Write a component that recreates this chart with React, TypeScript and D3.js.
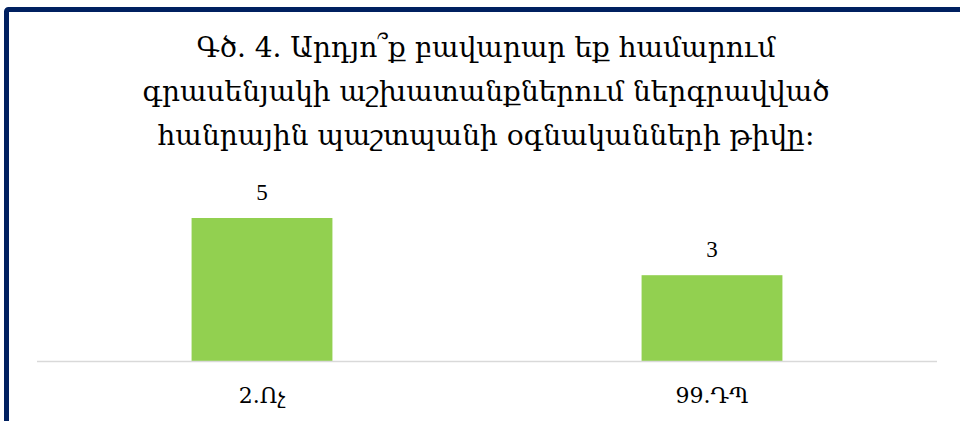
import React from "react";
import * as d3 from "d3";

const categories = ["2.Ոչ", "99.ԴՊ"];
const values = [5, 3];
const titleLines = [
  "Գծ. 4. Արդյո՞ք բավարար եք համարում",
  "գրասենյակի աշխատանքներում ներգրավված",
  "հանրային պաշտպանի օգնականների թիվը։",
];

export default function App() {
  const W = 960, H = 421;
  const left = 37, right = 937, baseY = 361;
  const x = d3.scaleBand<string>().domain(categories).range([left, right]).paddingInner(0.687).paddingOuter(0.3435);
  const y = d3.scaleLinear().domain([0, 5]).range([baseY, baseY - 143]);
  const font = "'DejaVu Serif', 'Liberation Serif', serif";
  return (
    <svg width={W} height={H} style={{ position: "absolute", left: 0, top: 0, background: "#fff" }}>
      <rect x={6.5} y={9.5} width={1000} height={500} rx={2} fill="#fff" stroke="#002060" strokeWidth={5} />
      {titleLines.map((t, i) => (
        <text key={i} x={486} y={57 + i * 44} textAnchor="middle" fontFamily={font} fontSize={28} fill="#000">
          {t}
        </text>
      ))}
      {categories.map((c, i) => (
        <g key={c}>
          <rect x={x(c)} y={y(values[i])} width={x.bandwidth()} height={baseY - y(values[i])} fill="#92d050" />
          <text x={x(c)! + x.bandwidth() / 2} y={y(values[i]) - 18} textAnchor="middle" fontFamily="'Liberation Serif', serif" fontSize={23} fill="#000">
            {values[i]}
          </text>
          <text x={x(c)! + x.bandwidth() / 2} y={403} textAnchor="middle" fontFamily={font} fontSize={22} fill="#000">
            {c}
          </text>
        </g>
      ))}
      <line x1={left} x2={right} y1={baseY + 0.5} y2={baseY + 0.5} stroke="#d9d9d9" strokeWidth={1.5} />
    </svg>
  );
}
